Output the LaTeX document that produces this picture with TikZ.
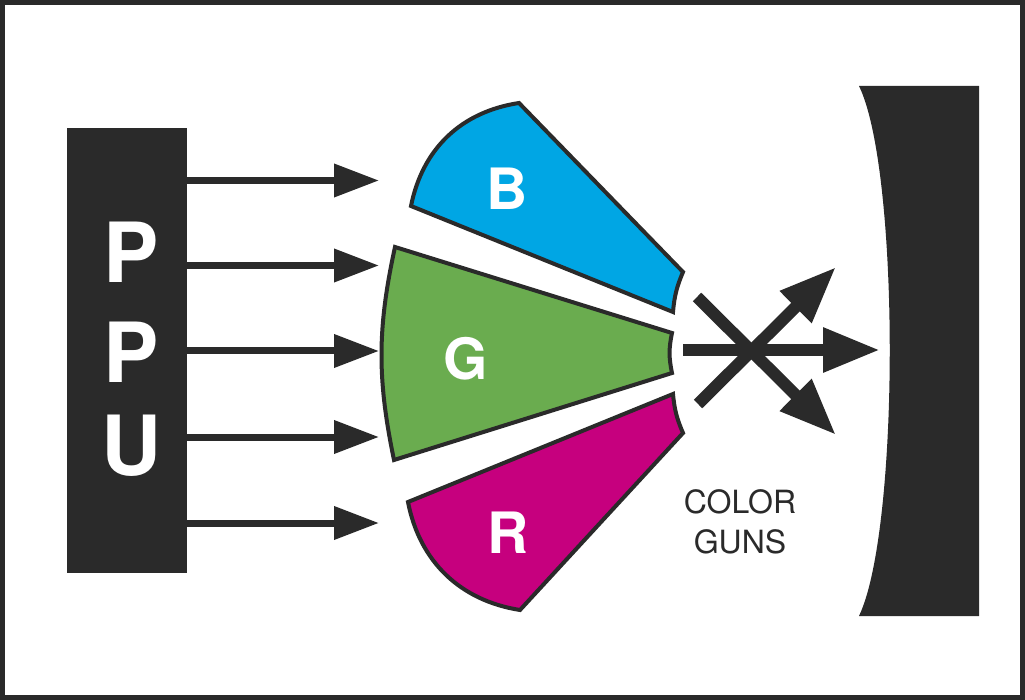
\documentclass[tikz,border=0pt]{standalone}
\usepackage{fontspec}
\setmainfont{TeX Gyre Heros}
\usetikzlibrary{arrows.meta}
\definecolor{ink}{HTML}{2A2A2A}
\definecolor{gunblue}{HTML}{00A6E4}
\definecolor{gungreen}{HTML}{6AAC4F}
\definecolor{gunred}{HTML}{C6007E}
\tikzset{
  feedarrow/.style={ink,line width=7pt,-{Triangle[length=45pt,width=32pt]}},
  beamarrow/.style={ink,line width=12pt,-{Triangle[length=57pt,width=42pt]}},
  gun/.style={draw=ink,line width=4pt,line join=miter},
  ppuletter/.style={white,font=\fontsize{83}{83}\selectfont\bfseries,inner sep=0pt},
  gunletter/.style={white,font=\fontsize{57}{57}\selectfont\bfseries,inner sep=0pt},
  gunlabel/.style={ink,font=\fontsize{32}{32}\selectfont,inner sep=0pt,anchor=base},
}
\begin{document}
\begin{tikzpicture}[x=1pt,y=-1pt]
  \useasboundingbox (0,0) rectangle (1025,700);
  \draw[ink,line width=5pt] (2.5,2.5) rectangle (1022.5,697.5);

  % PPU block and its feed lines
  \node[fill=ink,minimum width=120pt,minimum height=445pt,inner sep=0pt] (ppu) at (127,350.5) {};
  \node[ppuletter] (ppuP1) at (131,252) {P};
  \node[ppuletter] (ppuP2) at (131,352.5) {P};
  \node[ppuletter] (ppuU) at (131,446) {U};
  \foreach \y [count=\i] in {180.5,265.5,351,437,523}{
    \coordinate (feed\i) at (379,\y);
    \draw[feedarrow] (ppu.east |- feed\i) -- (feed\i);
  }

  % color guns
  \coordinate (Bob) at (411,206);
  \coordinate (Bot) at (519,103);
  \coordinate (Bit) at (683,272);
  \coordinate (Bib) at (673,312);
  \filldraw[gun,fill=gunblue] (Bob) to[bend left=35] (Bot) -- (Bit) to[bend right=9] (Bib) -- cycle;
  \node[gunletter] (gunB) at (507,189) {B};

  \coordinate (Got) at (395,247);
  \coordinate (Git) at (672,333);
  \coordinate (Gib) at (672,373);
  \coordinate (Gob) at (394,460);
  \filldraw[gun,fill=gungreen] (Gob) to[bend left=12] (Got) -- (Git) to[bend right=12] (Gib) -- cycle;
  \node[gunletter] (gunG) at (466,359) {G};

  \coordinate (Rot) at (408,502);
  \coordinate (Rit) at (673,394);
  \coordinate (Rib) at (683,433);
  \coordinate (Rob) at (520,610);
  \filldraw[gun,fill=gunred] (Rot) -- (Rit) to[bend right=9] (Rib) -- (Rob) to[bend left=35] (Rot) -- cycle;
  \node[gunletter] (gunR) at (508,533) {R};

  \node[gunlabel] (labelColor) at (740,513) {COLOR};
  \node[gunlabel] (labelGuns) at (740,553) {GUNS};

  % crossing beams
  \coordinate (upStart) at (698,404);
  \coordinate (upEnd) at (836,267);
  \coordinate (downStart) at (697,297);
  \coordinate (downEnd) at (836,435);
  \coordinate (midStart) at (683,350);
  \coordinate (midEnd) at (880,350);
  \draw[beamarrow] (upStart) -- (upEnd);
  \draw[beamarrow] (downStart) -- (downEnd);
  \draw[beamarrow] (midStart) -- (midEnd);

  % screen
  \fill[ink] (859,86) .. controls (900,170) and (900,530) .. (859,616) -- (979,616) -- (979,86) -- cycle;
\end{tikzpicture}
\end{document}
